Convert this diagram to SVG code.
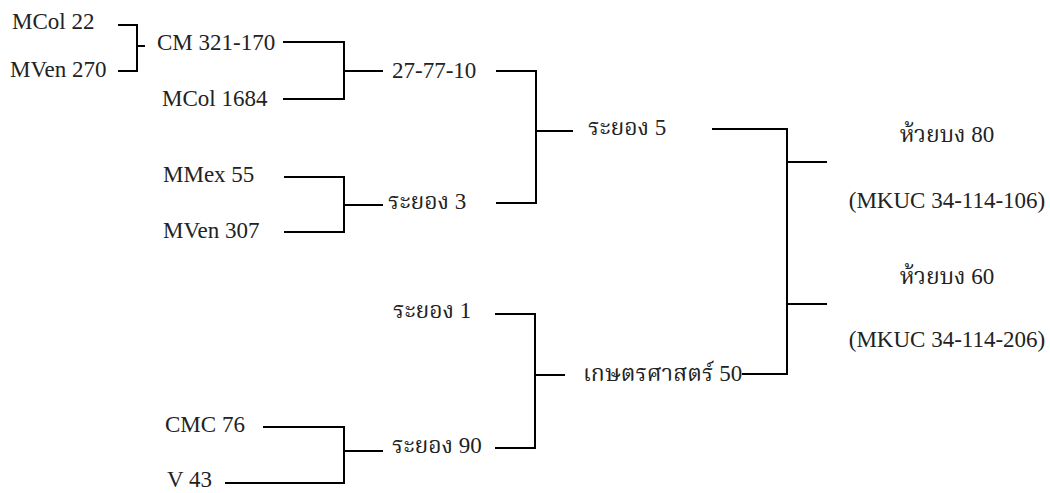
<svg xmlns="http://www.w3.org/2000/svg" width="1050" height="493" viewBox="0 0 1050 493">
<style>
text{font-family:'Liberation Serif','Times New Roman',serif;font-size:23px;fill:#222}
text.t{font-family:'Liberation Serif','Noto Serif Thai','Noto Sans Thai',serif}
.m{text-anchor:middle}
#connectors path{fill:none;stroke:#000;stroke-width:2}
</style>
<rect width="1050" height="493" fill="#fff"/>
<g id="connectors">
<path d="M118,25 H137 V71 H118 M137,46 H145"/>
<path d="M283,42 H344 V99 H283 M344,71 H383"/>
<path d="M496,71 H536 V203 H496 M536,131 H573"/>
<path d="M284,177 H344 V232 H284 M344,205 H383"/>
<path d="M495,314 H535 V448 H495 M535,375 H565"/>
<path d="M263,427 H344 V483 H225 M344,451 H383"/>
<path d="M712,129 H787 V374 H742 M787,162 H827 M787,304 H827"/>
</g>
<g id="n-mcol22"><text x="12" y="29">MCol 22</text></g>
<g id="n-mven270"><text x="10" y="77">MVen 270</text></g>
<g id="n-cm321"><text x="157" y="50">CM 321-170</text></g>
<g id="n-mcol1684"><text x="162" y="106">MCol 1684</text></g>
<g id="n-277710"><text x="392" y="78">27-77-10</text></g>
<g id="n-mmex55"><text x="163" y="182">MMex 55</text></g>
<g id="n-mven307"><text x="163" y="238">MVen 307</text></g>
<g id="n-rayong3"><text class="t" x="388" y="209">ระยอง 3</text></g>
<g id="n-rayong5"><text class="t" x="588" y="135">ระยอง 5</text></g>
<g id="n-rayong1"><text class="t" x="393" y="318">ระยอง 1</text></g>
<g id="n-cmc76"><text x="165" y="432">CMC 76</text></g>
<g id="n-v43"><text x="167" y="487">V 43</text></g>
<g id="n-rayong90"><text class="t" x="392" y="453">ระยอง 90</text></g>
<g id="n-ks50"><text class="t" x="583" y="381">เกษตรศาสตร์ 50</text></g>
<g id="n-hb80"><text class="m t" x="947" y="142">ห้วยบง 80</text><text class="m" x="947" y="208">(MKUC 34-114-106)</text></g>
<g id="n-hb60"><text class="m t" x="947" y="284">ห้วยบง 60</text><text class="m" x="947" y="347">(MKUC 34-114-206)</text></g>
</svg>
